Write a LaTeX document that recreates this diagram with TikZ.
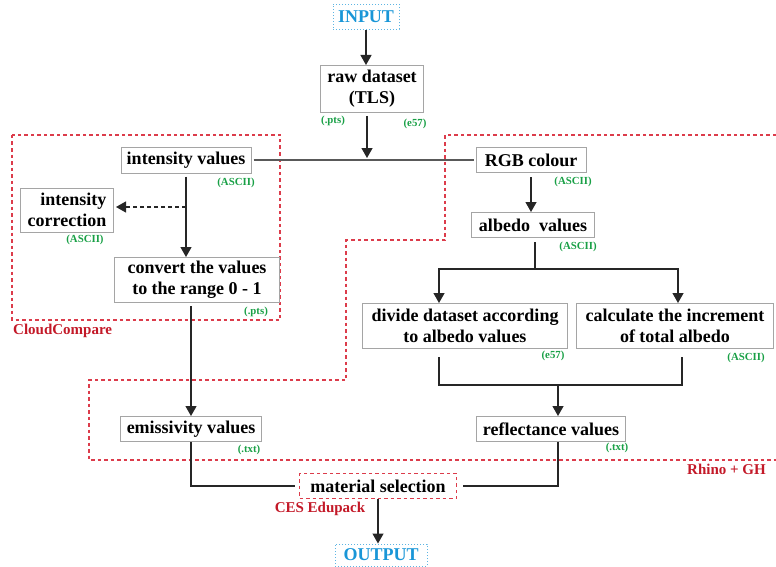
\documentclass[tikz,border=0pt]{standalone}
\usepackage{fontspec}
\setmainfont{Liberation Serif}
\usetikzlibrary{arrows.meta,calc}
\definecolor{boxgray}{RGB}{165,165,165}
\definecolor{myblue}{RGB}{25,150,215}
\definecolor{mygreen}{RGB}{25,160,70}
\definecolor{myred}{RGB}{195,25,40}
\definecolor{dashred}{RGB}{220,60,75}
\begin{document}
\begin{tikzpicture}[x=1pt,y=-1pt,
 box/.style={draw=boxgray,line width=1pt,font=\fontsize{18}{21}\selectfont\bfseries,inner sep=0pt,align=center,text=black},
 fmt/.style={font=\fontsize{10.8}{12}\selectfont\bfseries,text=mygreen,inner sep=0pt},
 tool/.style={font=\fontsize{15}{17}\selectfont\bfseries,text=myred,inner sep=0pt},
 io/.style={draw=myblue!70,dotted,line width=1pt,font=\fontsize{18}{20}\selectfont\bfseries,text=myblue,inner sep=0pt},
 conn/.style={line width=1.3pt,draw=black!85},
 arr/.style={conn,-{Triangle[length=10pt,width=11pt]}},
 region/.style={draw=dashred,dash pattern=on 3.5pt off 3pt,line width=1.1pt}
]
\useasboundingbox (0,0) rectangle (776,567);

% regions
\draw[region] (12,135) rectangle (280,320);
\node[tool,anchor=west] (ccl) at (13,331) {CloudCompare};
\draw[region] (776,135) -- (445,135) -- (445,240) -- (346,240) -- (346,380) -- (89,380) -- (89,460) -- (776,460);
\node[tool,anchor=east] (rgl) at (766,469) {Rhino + GH};

% nodes
\node[io,minimum width=66pt,minimum height=25pt] (in) at (366,17) {INPUT};
\node[box,minimum width=103pt,minimum height=47pt] (raw) at (372,89) {raw dataset\\(TLS)};
\node[fmt] (rawf1) at (333,121) {(.pts)};
\node[fmt] (rawf2) at (415,124) {(e57)};

\node[box,minimum width=130pt,minimum height=26pt] (int) at (186,160) {intensity values};
\node[fmt] (intf) at (236,183) {(ASCII)};
\node[box,minimum width=93pt,minimum height=44pt,align=right] (cor) at (67,210) {intensity\\correction};
\node[fmt] (corf) at (85,240) {(ASCII)};
\node[box,minimum width=165pt,minimum height=45pt] (conv) at (197,280) {convert the values\\to the range 0 - 1};
\node[fmt] (convf) at (256,312) {(.pts)};
\node[box,minimum width=141pt,minimum height=25pt] (emis) at (191,429) {emissivity values};
\node[fmt] (emisf) at (249,450) {(.txt)};

\node[box,minimum width=110pt,minimum height=25pt] (rgb) at (531,160) {RGB colour};
\node[fmt] (rgbf) at (573,182) {(ASCII)};
\node[box,minimum width=123pt,minimum height=25pt] (alb) at (533,225) {albedo\ \ values};
\node[fmt] (albf) at (578,247) {(ASCII)};
\node[box,minimum width=205pt,minimum height=45pt] (div) at (465,326) {divide dataset according\\to albedo values};
\node[fmt] (divf) at (553,356) {(e57)};
\node[box,minimum width=197pt,minimum height=45pt] (calc) at (675,326) {calculate the increment\\of total albedo};
\node[fmt] (calcf) at (746,358) {(ASCII)};
\node[box,minimum width=149pt,minimum height=25pt] (refl) at (551,429) {reflectance values};
\node[fmt] (reflf) at (617,448) {(.txt)};

\node[box,draw=dashred,dash pattern=on 3.5pt off 3pt,minimum width=157pt,minimum height=25pt] (mat) at (378,486) {material selection};
\node[tool] (ces) at (320,509) {CES Edupack};
\node[io,minimum width=92pt,minimum height=22pt] (out) at (381,555) {OUTPUT};

% junction coordinates
\coordinate (j1) at (367,158);
\coordinate (jd) at (186,207);
\coordinate (j2) at (535,269);
\coordinate (jl) at (439,269);
\coordinate (jr) at (678,269);
\coordinate (kl) at (439,385);
\coordinate (kr) at (682,385);
\coordinate (k) at (558,385);

% connectors
\draw[arr] (in.south) -- (in.south |- raw.north);
\draw[arr] ([yshift=-3pt]raw.south -| j1) -- (j1);
\draw[conn,draw=black!65] ([xshift=2pt]int.east) -- ([xshift=-2pt]rgb.west);
\draw[arr] ([yshift=-3pt]int.south) -- (int.south |- conv.north);
\draw[arr,dash pattern=on 4pt off 3pt] (jd) -- ([xshift=2pt]cor.east |- jd);
\draw[arr] ([yshift=-3pt]conv.south -| emis.north) -- (emis.north);

\draw[arr] ([yshift=-4pt]rgb.south) -- (rgb.south |- alb.north);
\draw[conn] ([yshift=-4pt]alb.south -| j2) -- (j2);
\draw[arr] (j2) -- (jl) -- (jl |- div.north);
\draw[arr] (j2) -- (jr) -- (jr |- calc.north);
\draw[conn] ([yshift=-8pt]div.south -| kl) -- (kl) -- (kr) -- ([yshift=-8pt]calc.south -| kr);
\draw[arr] (k) -- (k |- refl.north);

\draw[conn] (emis.south) -- (emis.south |- mat.west) -- ([xshift=-4pt]mat.west);
\draw[conn] (refl.south -| k) -- (k |- mat.east) -- ([xshift=6pt]mat.east);
\draw[arr] (mat.south) -- (mat.south |- out.north);
\end{tikzpicture}
\end{document}
